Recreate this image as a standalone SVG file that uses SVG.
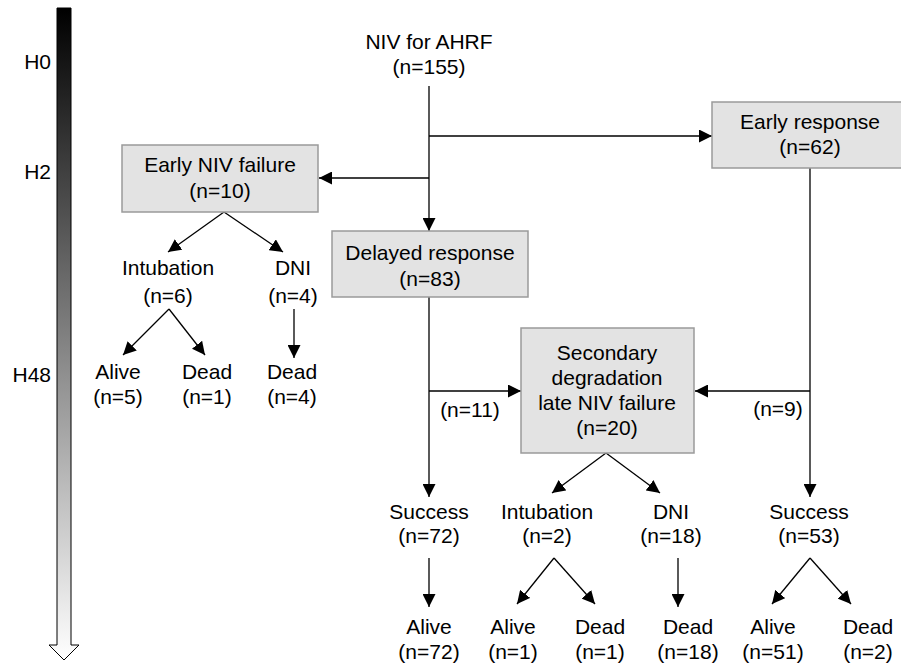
<svg xmlns="http://www.w3.org/2000/svg" width="901" height="666" viewBox="0 0 901 666">
<defs>
<linearGradient id="timeGrad" x1="0" y1="0" x2="0" y2="1">
<stop offset="0" stop-color="#000000"/>
<stop offset="1" stop-color="#ffffff"/>
</linearGradient>
<marker id="arr" markerUnits="userSpaceOnUse" markerWidth="13" markerHeight="13" viewBox="0 0 12 12" refX="12" refY="6" orient="auto">
<path d="M0,0 L12,6 L0,12 z" fill="#000"/>
</marker>
</defs>
<style>
text{font-family:"Liberation Sans",Arial,sans-serif;font-size:21px;fill:#000;text-anchor:middle}
.h{text-anchor:end}
.box{fill:#e3e3e3;stroke:#9a9a9a;stroke-width:1.5}
.c line,.c polyline{stroke:#000;stroke-width:1.3;fill:none}
.a{marker-end:url(#arr)}
</style>
<rect width="901" height="666" fill="#fff"/>
<g id="timeline">
<polygon points="57,8 71,8 71,645 79,645 64,660 49,645 57,645" fill="url(#timeGrad)" stroke="#000" stroke-width="1"/>
<text class="h" x="51" y="69">H0</text>
<text class="h" x="51" y="179">H2</text>
<text class="h" x="51" y="382">H48</text>
</g>
<g class="c" id="connectors">
<line class="a" x1="429" y1="86" x2="429" y2="231"/>
<line class="a" x1="429" y1="136" x2="712" y2="136"/>
<line class="a" x1="429" y1="178" x2="319" y2="178"/>
<line class="a" x1="224" y1="212" x2="168" y2="252"/>
<line class="a" x1="224" y1="212" x2="283" y2="252"/>
<line class="a" x1="169" y1="309" x2="123" y2="355"/>
<line class="a" x1="169" y1="309" x2="205" y2="355"/>
<line class="a" x1="294" y1="309" x2="294" y2="358"/>
<line class="a" x1="429" y1="297" x2="429" y2="497"/>
<line class="a" x1="429" y1="391" x2="521" y2="391"/>
<line class="a" x1="810" y1="168" x2="810" y2="497"/>
<line class="a" x1="810" y1="391" x2="695" y2="391"/>
<line class="a" x1="606" y1="453" x2="552" y2="493"/>
<line class="a" x1="606" y1="453" x2="660" y2="493"/>
<line class="a" x1="429" y1="558" x2="429" y2="607"/>
<line class="a" x1="554" y1="558" x2="517" y2="604"/>
<line class="a" x1="554" y1="558" x2="595" y2="604"/>
<line class="a" x1="678" y1="558" x2="678" y2="607"/>
<line class="a" x1="810" y1="558" x2="772" y2="604"/>
<line class="a" x1="810" y1="558" x2="851" y2="604"/>
</g>
<g id="start"><text x="429" y="49">NIV for AHRF</text><text x="429" y="74">(n=155)</text></g>
<g id="early-response"><rect class="box" x="712" y="102" width="196" height="66"/><text x="810" y="129">Early response</text><text x="810" y="154">(n=62)</text></g>
<g id="early-failure"><rect class="box" x="122" y="145" width="196" height="67"/><text x="220" y="172">Early NIV failure</text><text x="220" y="198">(n=10)</text></g>
<g id="delayed"><rect class="box" x="332" y="231" width="196" height="66"/><text x="430" y="260">Delayed response</text><text x="430" y="286">(n=83)</text></g>
<g id="secondary"><rect class="box" x="521" y="328" width="173" height="125"/><text x="607" y="360">Secondary</text><text x="607" y="385">degradation</text><text x="607" y="410">late NIV failure</text><text x="607" y="435">(n=20)</text></g>
<g id="intub1"><text x="168" y="275">Intubation</text><text x="168" y="303">(n=6)</text></g>
<g id="dni1"><text x="293" y="275">DNI</text><text x="293" y="303">(n=4)</text></g>
<g id="alive1"><text x="118" y="379">Alive</text><text x="118" y="404">(n=5)</text></g>
<g id="dead1"><text x="207" y="379">Dead</text><text x="207" y="404">(n=1)</text></g>
<g id="dead2"><text x="292" y="379">Dead</text><text x="292" y="404">(n=4)</text></g>
<g id="lbl11"><text x="470" y="417">(n=11)</text></g>
<g id="lbl9"><text x="778" y="416">(n=9)</text></g>
<g id="success72"><text x="429" y="519">Success</text><text x="429" y="543">(n=72)</text></g>
<g id="intub2"><text x="547" y="519">Intubation</text><text x="547" y="543">(n=2)</text></g>
<g id="dni2"><text x="671" y="519">DNI</text><text x="671" y="543">(n=18)</text></g>
<g id="success53"><text x="809" y="519">Success</text><text x="809" y="543">(n=53)</text></g>
<g id="alive72"><text x="429" y="634">Alive</text><text x="429" y="659">(n=72)</text></g>
<g id="alive1b"><text x="513" y="634">Alive</text><text x="513" y="659">(n=1)</text></g>
<g id="dead1b"><text x="600" y="634">Dead</text><text x="600" y="659">(n=1)</text></g>
<g id="dead18"><text x="688" y="634">Dead</text><text x="688" y="659">(n=18)</text></g>
<g id="alive51"><text x="773" y="634">Alive</text><text x="773" y="659">(n=51)</text></g>
<g id="dead2b"><text x="868" y="634">Dead</text><text x="868" y="659">(n=2)</text></g>
</svg>
